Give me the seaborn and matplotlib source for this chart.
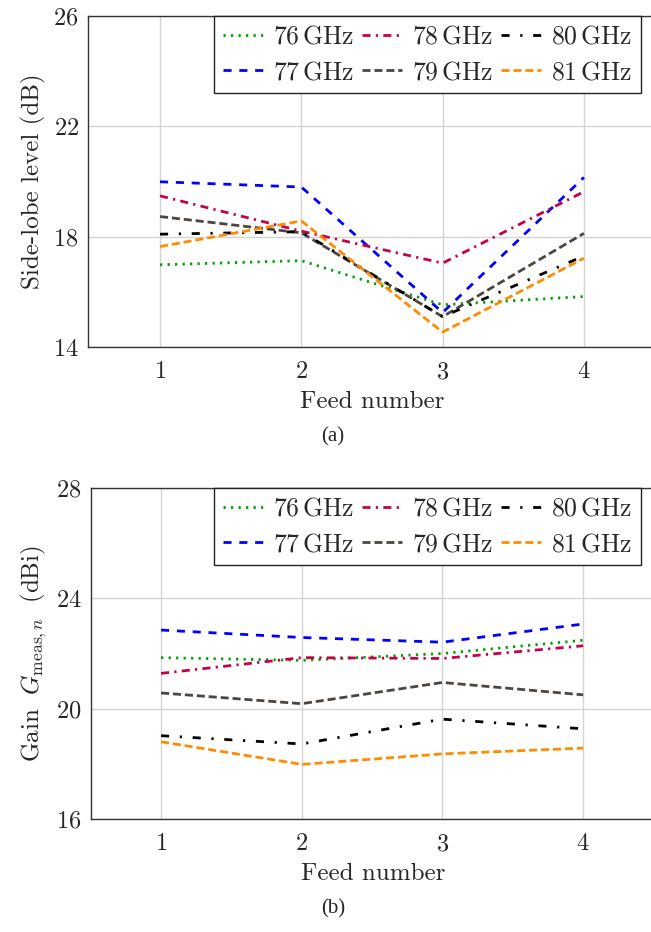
import matplotlib
matplotlib.use("Agg")
import matplotlib.pyplot as plt
import seaborn as sns
import pandas as pd

# Feed positions and frequencies
feeds = [1, 2, 3, 4]
freq_labels = [r"$76\,\mathrm{GHz}$", r"$77\,\mathrm{GHz}$", r"$78\,\mathrm{GHz}$",
               r"$79\,\mathrm{GHz}$", r"$80\,\mathrm{GHz}$", r"$81\,\mathrm{GHz}$"]

# Side-lobe level (dB) per frequency, feeds 1..4
sll_76 = [16.98, 17.13, 15.53, 15.83]
sll_77 = [19.99, 19.80, 15.25, 20.15]
sll_78 = [19.48, 18.20, 17.04, 19.63]
sll_79 = [18.73, 18.14, 15.10, 18.12]
sll_80 = [18.09, 18.18, 15.10, 17.30]
sll_81 = [17.64, 18.57, 14.54, 17.22]

# Measured gain (dBi) per frequency, feeds 1..4
gain_76 = [21.85, 21.75, 22.00, 22.48]
gain_77 = [22.85, 22.58, 22.41, 23.07]
gain_78 = [21.28, 21.85, 21.82, 22.28]
gain_79 = [20.57, 20.18, 20.95, 20.50]
gain_80 = [19.02, 18.72, 19.62, 19.27]
gain_81 = [18.80, 17.98, 18.36, 18.57]

sll_ticks = [14, 18, 22, 26]
gain_ticks = [16, 20, 24, 28]

colors = ["#00a000", "#0000ff", "#c8004b", "#4d4640", "#000000", "#ff8c00"]
dashes = [
    (1.6, 3.8),                 # dotted
    (5.8, 5.6),                 # dashed
    (5.8, 3.8, 1.6, 3.8),       # dash-dotted
    (5.8, 2.8),                 # densely dashed
    (5.8, 7.7, 1.6, 7.7),       # loosely dash-dotted
    (5.8, 2.8),                 # densely dashed
]

sns.set_theme(style="white")
plt.rcParams.update({
    "font.family": ["cmr10", "DejaVu Serif"],
    "mathtext.fontset": "cm",
    "axes.formatter.use_mathtext": True,
    "lines.scale_dashes": False,
    "axes.unicode_minus": False,
})


def long_form(series):
    rows = []
    for lab, vals in zip(freq_labels, series):
        for f, v in zip(feeds, vals):
            rows.append({"feed": f, "value": v, "freq": lab})
    return pd.DataFrame(rows)


fig = plt.figure(figsize=(6.51, 9.32), dpi=100)
W, H = 651.0, 932.0


def make_axes(left_px, top_px, bottom_px, x_left, px_per_unit):
    right_px = 656.0
    ax = fig.add_axes([left_px / W, 1 - bottom_px / H,
                       (right_px - left_px) / W, (bottom_px - top_px) / H])
    ax.set_xlim(x_left, x_left + (right_px - left_px) / px_per_unit)
    return ax, left_px, right_px


def draw(axinfo, series, yticks, ylabel):
    ax, left_px, right_px = axinfo
    df = long_form(series)
    sns.lineplot(data=df, x="feed", y="value", hue="freq", style="freq",
                 palette=colors, dashes=dashes, linewidth=2.0, ax=ax,
                 legend=True)
    ax.set_ylim(yticks[0], yticks[-1])
    ax.set_yticks(yticks)
    ax.set_xticks(feeds)
    ax.grid(True, color="#d3d3d3", linewidth=1.0)
    ax.set_axisbelow(True)
    for side in ["left", "bottom", "top"]:
        ax.spines[side].set_color("#333333")
        ax.spines[side].set_linewidth(1.0)
    ax.spines["right"].set_visible(False)
    ax.tick_params(axis="both", which="major", direction="in", length=4,
                   width=0.8, color="#bbbbbb", labelsize=17.5)
    ax.tick_params(axis="x", pad=10)
    ax.tick_params(axis="y", pad=7)
    ax.set_xlabel("Feed number", fontsize=18, labelpad=6)
    ax.set_ylabel(ylabel, fontsize=18, labelpad=5)
    handles, labels = ax.get_legend_handles_labels()
    anchor_x = (214.0 - left_px) / (right_px - left_px)
    ax.legend(handles, labels, ncol=3, loc="upper left",
              bbox_to_anchor=(anchor_x, 1.0), fontsize=18.5, frameon=True,
              fancybox=False, edgecolor="#222222", framealpha=1.0,
              handlelength=1.55, handletextpad=0.4, columnspacing=0.3,
              labelspacing=0.45, borderpad=0.35, borderaxespad=0.0)
    ax.get_legend().get_frame().set_linewidth(1.0)


ax1 = make_axes(88.4, 16.0, 347.0, 0.493, 141.3)
draw(ax1, [sll_76, sll_77, sll_78, sll_79, sll_80, sll_81], sll_ticks,
     "Side-lobe level (dB)")

ax2 = make_axes(91.0, 488.0, 819.0, 0.502, 140.7)
draw(ax2, [gain_76, gain_77, gain_78, gain_79, gain_80, gain_81], gain_ticks,
     r"Gain $\;G_{\mathrm{meas},n}\;$ (dBi)")

fig.text(333 / W, 1 - 437 / H, "(a)", ha="center", va="center",
         fontsize=15, family="Liberation Serif")
fig.text(333 / W, 1 - 909 / H, "(b)", ha="center", va="center",
         fontsize=15, family="Liberation Serif")

fig.savefig("out.png", dpi=100, facecolor="white")
